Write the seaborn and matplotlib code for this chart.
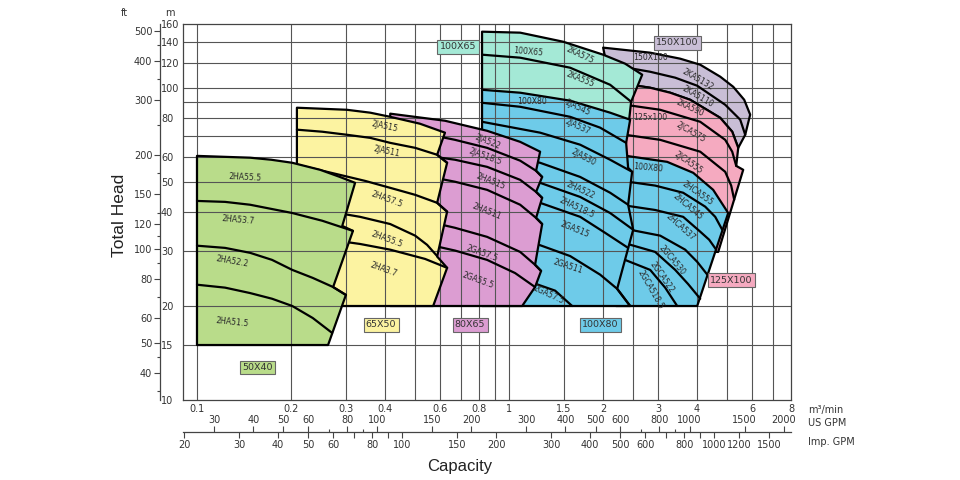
import numpy as np
import pandas as pd
import seaborn as sns
import matplotlib.pyplot as plt
from matplotlib.patches import Polygon
from matplotlib.ticker import FixedLocator, NullLocator, NullFormatter

sns.set_theme(style='white')
plt.rcParams['font.family'] = ['DejaVu Sans']

# axis / grid values
grid_q = [0.1, 0.2, 0.3, 0.4, 0.5, 0.6, 0.7, 0.8, 0.9, 1, 1.5, 2, 2.5, 3, 4, 5, 6, 7]
grid_h = [15, 20, 30, 40, 50, 60, 70, 80, 90, 100, 120, 140]
q_ticks = [0.1, 0.2, 0.3, 0.4, 0.6, 0.8, 1, 1.5, 2, 3, 4, 6, 8]
q_labels = ['0.1', '0.2', '0.3', '0.4', '0.6', '0.8', '1', '1.5', '2', '3', '4', '6', '8']
m_ticks = [10, 15, 20, 30, 40, 50, 60, 80, 100, 120, 140, 160]
ft_ticks = [40, 50, 60, 80, 100, 120, 150, 200, 300, 400, 500]
ft_minor = [35, 45, 70, 90, 110, 130, 175, 250, 350, 450]
us_ticks = [30, 40, 50, 60, 80, 100, 150, 200, 300, 400, 500, 600, 800, 1000, 1500, 2000]
us_minor = [70, 90, 700, 900]
imp_ticks = [20, 30, 40, 50, 60, 70, 80, 90, 100, 150, 200, 300, 400, 500, 600, 700, 800, 900, 1000, 1200, 1500]
imp_labels = ['20', '30', '40', '50', '60', '', '80', '', '100', '150', '200', '300', '400', '500', '600', '', '800', '', '1000', '1200', '1500']

# 50X40 (green): impeller curves (Q m3/min, H m), top curve first
g_curves = [
    ([0.100, 0.148, 0.173, 0.202, 0.248, 0.287, 0.321], [60.5, 59.7, 58.8, 57.5, 54.6, 51.8, 49.6]),
    ([0.100, 0.123, 0.148, 0.202, 0.252, 0.316], [43.4, 43.1, 42.2, 39.7, 37.5, 34.8]),
    ([0.100, 0.123, 0.148, 0.174, 0.202, 0.235, 0.273, 0.300], [31.2, 30.7, 29.6, 28.1, 26.1, 24.6, 23.0, 21.7]),
    ([0.100, 0.123, 0.148, 0.174, 0.202, 0.235, 0.271], [23.4, 22.9, 22.0, 21.1, 20.0, 18.3, 16.4]),
]
g_edge = ([0.321, 0.292, 0.316, 0.273, 0.300, 0.263], [49.6, 36.1, 34.8, 23.0, 21.7, 15])
g_base = ([0.1], [15])

# 65X50 (yellow)
y_curves = [
    ([0.209, 0.302, 0.359, 0.416, 0.518, 0.623], [86.3, 85.0, 83.2, 80.7, 76.7, 71.8]),
    ([0.209, 0.252, 0.302, 0.359, 0.416, 0.500, 0.588, 0.633], [73.4, 72.3, 70.7, 69.1, 66.6, 64.2, 61.0, 57.5]),
    ([0.209, 0.287, 0.346, 0.416, 0.500, 0.588, 0.633], [56.7, 52.6, 50.3, 47.8, 45.4, 42.8, 40.1]),
    ([0.267, 0.333, 0.416, 0.500, 0.546, 0.588], [40.1, 38.6, 36.6, 33.6, 31.4, 28.9]),
    ([0.267, 0.333, 0.416, 0.538, 0.633], [32.6, 31.6, 30.3, 28.3, 26.5]),
]
y_edge = ([0.623, 0.588, 0.633, 0.588, 0.633, 0.588, 0.633, 0.571],
          [71.8, 61.0, 57.5, 42.8, 40.1, 28.8, 26.5, 20])
y_base = ([0.209], [20])

# 80X65 (magenta)
p_curves = [
    ([0.416, 0.623, 0.850, 1.085, 1.257], [82.6, 78.4, 72.8, 67.1, 62.4]),
    ([0.518, 0.671, 0.850, 1.085, 1.220, 1.276], [71.8, 68.1, 64.2, 58.4, 54.2, 51.8]),
    ([0.518, 0.671, 0.850, 1.085, 1.220, 1.276], [61.0, 58.8, 55.8, 50.7, 46.4, 44.4]),
    ([0.518, 0.671, 0.850, 1.085, 1.220, 1.276], [52.6, 50.0, 47.1, 42.2, 38.3, 36.6]),
    ([0.518, 0.671, 0.850, 1.085, 1.211, 1.266], [37.8, 35.6, 33.3, 29.8, 27.1, 25.9]),
    ([0.518, 0.671, 0.850, 1.045, 1.211], [31.9, 30.1, 28.1, 25.5, 23.0]),
]
p_edge = ([1.257, 1.220, 1.276, 1.220, 1.276, 1.220, 1.276, 1.211, 1.266, 1.211, 1.101],
          [62.4, 54.2, 51.8, 46.4, 44.4, 38.3, 36.6, 27.1, 25.9, 23.0, 20])
p_base = ([0.416], [20])

# 100X65 (teal)
t_curves = [
    ([0.819, 1.085, 1.490, 2.001, 2.354, 2.669], [151.2, 150.1, 140.4, 127.6, 119.4, 110.1]),
    ([0.819, 1.085, 1.569, 2.107, 2.460], [127.6, 124.8, 115.9, 102.2, 90.2]),
]
t_edge = ([2.669, 2.460, 2.424], [110.1, 90.2, 79])
t_base = ([0.819], [79])

# 100X80 (blue, 2JA / 2HA / 2GA)
b_curves = [
    ([0.819, 1.085, 1.569, 2.107, 2.442], [98.5, 96.4, 90.9, 83.2, 79.0]),
    ([0.819, 1.085, 1.569, 1.957, 2.371], [89.5, 86.9, 80.7, 74.5, 66.6]),
    ([0.819, 1.257, 1.689, 2.107, 2.478], [77.8, 71.8, 65.7, 58.8, 53.8]),
    ([0.819, 1.257, 1.689, 2.107, 2.406], [63.3, 57.5, 51.8, 46.1, 42.2]),
    ([0.819, 1.257, 1.689, 2.107, 2.497], [54.6, 49.6, 44.7, 39.7, 35.1]),
    ([0.819, 1.257, 1.689, 2.031, 2.406], [47.1, 42.8, 38.6, 34.3, 30.7]),
    ([1.194, 1.569, 1.957, 2.219, 2.442], [31.9, 28.9, 25.2, 22.7, 20]),
    ([1.194, 1.404, 1.592], [23.7, 22.4, 20]),
]
b_edge = ([2.442, 2.371, 2.406, 2.478, 2.406, 2.497, 2.219, 2.442],
          [79.0, 66.6, 55.4, 53.8, 42.2, 35.1, 22.7, 20])
b_base = ([0.819], [20])

# 100X80 (blue, 2HCA / 2GCA)
r_curves = [
    ([2.200, 3.209, 3.889, 4.506, 5.034], [61.2, 57.9, 53.4, 47.1, 39.7]),
    ([2.269, 2.937, 3.611, 4.249, 4.574, 4.817], [50.4, 48.6, 46.1, 41.6, 38.6, 35.1]),
    ([2.269, 2.937, 3.611, 4.095, 4.375, 4.607], [42.2, 40.6, 38.6, 34.6, 32.6, 30.3]),
    ([2.269, 3.048, 3.665, 4.005, 4.342], [35.6, 33.6, 30.3, 27.7, 25.0]),
    ([2.269, 2.937, 3.405, 3.747, 4.095], [32.1, 29.8, 26.1, 23.5, 21.1]),
    ([2.269, 2.831, 3.162, 3.455], [28.5, 26.1, 22.9, 20]),
]
r_edge = ([5.034, 4.005], [39.7, 20])
r_base = ([2.200], [20])

# 125X100 (pink)
k_curves = [
    ([2.107, 2.831, 3.281, 3.803, 4.746, 5.185, 5.420], [104.5, 100.0, 96.4, 91.5, 80.1, 72.3, 64.2]),
    ([2.354, 3.048, 4.095, 4.924, 5.185, 5.341], [88.2, 85.0, 77.8, 68.1, 62.4, 56.2]),
    ([2.354, 3.048, 4.095, 4.924, 5.146, 5.262], [70.7, 68.1, 62.4, 53.8, 48.6, 43.8]),
]
k_edge = ([5.420, 5.341, 5.623, 4.676], [64.2, 56.2, 54.6, 29.8])
k_base = ([2.107], [29.8])

# 150X100 (lilac)
u_curves = [
    ([2.001, 2.831, 3.532, 4.095, 4.746, 5.224, 5.665, 5.920], [134.4, 129.5, 123.9, 118.5, 108.5, 100.7, 91.5, 82.0]),
    ([2.107, 2.831, 3.405, 4.005, 4.924, 5.501, 5.707], [118.5, 112.5, 107.7, 101.5, 88.2, 79.0, 70.7]),
]
u_edge = ([5.920, 5.707, 5.420], [82.0, 70.7, 64.2])
u_base = (k_curves[0][0][::-1], k_curves[0][1][::-1])

c_green, c_yellow, c_magenta = '#b9dc8a', '#fcf3a1', '#dc9dd2'
c_blue, c_teal, c_pink, c_lilac = '#6ecbe9', '#a4e9d6', '#f5aac0', '#c9bed6'

curve_labels = [
    ('2HA55.5', 0.143, 51.8, -3), ('2HA53.7', 0.135, 37.8, -5),
    ('2HA52.2', 0.130, 27.7, -10), ('2HA51.5', 0.130, 17.8, -6),
    ('2JA515', 0.400, 75.0, -12), ('2JA511', 0.406, 62.4, -12),
    ('2HA57.5', 0.406, 43.8, -20), ('2HA55.5', 0.406, 32.6, -20), ('2HA3.7', 0.395, 26.1, -20),
    ('2JA522', 0.856, 67.1, -22), ('2JA518.5', 0.838, 60.1, -20), ('2HA515', 0.869, 50.0, -22),
    ('2HA511', 0.850, 40.1, -22), ('2GA57.5', 0.819, 29.6, -20), ('2GA55.5', 0.796, 24.2, -20),
    ('100X65', 1.151, 130.5, -5), ('2KA575', 1.689, 127.6, -25), ('2KA555', 1.689, 106.1, -22),
    ('100X80', 1.185, 90.2, 0), ('2JA545', 1.652, 86.3, -25), ('2JA537', 1.652, 75.0, -25),
    ('2JA530', 1.727, 59.7, -28), ('2HA522', 1.689, 47.1, -25), ('2HA518.5', 1.652, 41.2, -25),
    ('2GA515', 1.627, 35.1, -22), ('2GA511', 1.546, 26.7, -18), ('2GA57.5', 1.334, 21.7, -25),
    ('100X80', 2.79, 55.4, -5), ('2HCA555', 4.005, 46.1, -35), ('2HCA545', 3.747, 41.6, -40),
    ('2HCA537', 3.532, 35.9, -42), ('2GCA530', 3.330, 28.1, -50), ('2GCA522', 3.093, 24.8, -55),
    ('2GCA518.5', 2.831, 22.5, -60),
    ('125x100', 2.831, 80.1, 0), ('2KA590', 3.803, 86.3, -25), ('2JCA575', 3.803, 72.3, -30),
    ('2JCA555', 3.747, 57.5, -35),
    ('150X100', 2.831, 124.8, 0), ('2KA5132', 4.005, 106.1, -30), ('2KA5110', 4.005, 93.6, -30),
]
box_labels = [
    ('50X40', 0.156, 12.7, c_green), ('65X50', 0.389, 17.4, c_yellow),
    ('80X65', 0.75, 17.4, c_magenta), ('100X80', 1.957, 17.4, c_blue),
    ('125X100', 5.146, 24.2, c_pink), ('100X65', 0.686, 135.3, c_teal),
    ('150X100', 3.455, 139.4, c_lilac),
]

grid_color, grid_lw = '#555555', 0.8
Q_MIN, Q_MAX, H_MIN, H_MAX = 0.0902, 8.0, 10, 160

fig = plt.figure(figsize=(9.6, 4.8), dpi=100)
ax = fig.add_axes([183 / 960, 80 / 480, 608 / 960, 376 / 480])
ax.set_xscale('log')
ax.set_yscale('log')
ax.set_facecolor('white')

ax.vlines(grid_q, H_MIN, H_MAX, colors=grid_color, lw=grid_lw, zorder=0.5)
ax.hlines(grid_h, Q_MIN, Q_MAX, colors=grid_color, lw=grid_lw, zorder=0.5)


def draw_family(curves, edge, base, color, z):
    top_q, top_h = curves[0]
    poly_q = list(top_q) + list(edge[0][1:]) + list(base[0])
    poly_h = list(top_h) + list(edge[1][1:]) + list(base[1])
    pts = np.column_stack([poly_q, poly_h])
    fill = Polygon(pts, closed=True, facecolor=color, edgecolor='none', zorder=z)
    ax.add_patch(fill)
    # grid shows through the coloured areas
    vl = ax.vlines(grid_q, H_MIN, H_MAX, colors=grid_color, lw=grid_lw, zorder=z + 0.1)
    vl.set_clip_path(fill)
    hl = ax.hlines(grid_h, Q_MIN, Q_MAX, colors=grid_color, lw=grid_lw, zorder=z + 0.1)
    hl.set_clip_path(fill)
    ax.add_patch(Polygon(pts, closed=True, fill=False, edgecolor='black', lw=1.6,
                         joinstyle='round', zorder=z + 0.2))
    for q, h in curves[1:]:
        sns.lineplot(x=q, y=h, sort=False, estimator=None, color='black', lw=1.6,
                     zorder=z + 0.2, legend=False, ax=ax)


draw_family(u_curves, u_edge, u_base, c_lilac, 10)
draw_family(k_curves, k_edge, k_base, c_pink, 20)
draw_family(r_curves, r_edge, r_base, c_blue, 30)
draw_family(t_curves, t_edge, t_base, c_teal, 40)
draw_family(b_curves, b_edge, b_base, c_blue, 50)
draw_family(p_curves, p_edge, p_base, c_magenta, 60)
draw_family(y_curves, y_edge, y_base, c_yellow, 70)
draw_family(g_curves, g_edge, g_base, c_green, 80)

for txt, q, h, rot in curve_labels:
    ax.text(q, h, txt, rotation=rot, ha='center', va='center', fontsize=5.6,
            color='#2a2a2a', rotation_mode='anchor', zorder=100)
for txt, q, h, col in box_labels:
    ax.text(q, h, txt, ha='center', va='center', fontsize=6.8, color='#333333', zorder=100,
            bbox=dict(boxstyle='square,pad=0.25', facecolor=col, edgecolor='#666666', lw=0.8))

ax.set_xlim(Q_MIN, Q_MAX)
ax.set_ylim(H_MIN, H_MAX)
ax.set_xlabel('')
ax.set_ylabel('')
ax.set_xticks(q_ticks, labels=q_labels)
ax.set_yticks(m_ticks, labels=[str(v) for v in m_ticks])
ax.xaxis.set_minor_locator(NullLocator())
ax.yaxis.set_minor_locator(NullLocator())
ax.tick_params(axis='x', length=0, pad=3, labelsize=7, labelcolor='#333333')
ax.tick_params(axis='y', length=0, pad=15.8, labelsize=7, labelcolor='#333333')
for lbl in ax.get_yticklabels():
    lbl.set_horizontalalignment('left')
for sp in ax.spines.values():
    sp.set_color('#444444')
    sp.set_linewidth(0.9)
    sp.set_zorder(200)

# feet axis on the left
ax_ft = ax.twinx()
ax_ft.set_yscale('log')
ax_ft.set_ylim(H_MIN * 3.28084, H_MAX * 3.28084)
ax_ft.yaxis.set_ticks_position('left')
ax_ft.spines['left'].set_position(('outward', 16.6))
ax_ft.spines['left'].set_visible(True)
ax_ft.spines['left'].set_color('#444444')
ax_ft.spines['left'].set_linewidth(0.9)
for s in ['right', 'top', 'bottom']:
    ax_ft.spines[s].set_visible(False)
ax_ft.set_yticks(ft_ticks, labels=[str(v) for v in ft_ticks])
ax_ft.yaxis.set_minor_locator(FixedLocator(ft_minor))
ax_ft.yaxis.set_minor_formatter(NullFormatter())
ax_ft.tick_params(axis='y', which='major', direction='out', length=4, width=0.8,
                  color='#444444', labelsize=7, labelcolor='#333333', pad=1.5)
ax_ft.tick_params(axis='y', which='minor', direction='out', length=2.5, width=0.8, color='#444444')

# GPM scales under the plot
ax_us = fig.add_axes([183 / 960, 48 / 480, 608 / 960, 0.001])
ax_imp = ax_us.twiny()
ax_us.set_xscale('log')
ax_us.set_xlim(Q_MIN * 264.172, Q_MAX * 264.172)
ax_imp.set_xscale('log')
ax_imp.set_xlim(Q_MIN * 219.969, Q_MAX * 219.969)
for a in (ax_us, ax_imp):
    a.set_yticks([])
    a.patch.set_alpha(0)
    for s in a.spines.values():
        s.set_visible(False)
ax_us.spines['bottom'].set_visible(True)
ax_us.spines['bottom'].set_color('#444444')
ax_us.spines['bottom'].set_linewidth(0.9)
ax_us.xaxis.set_ticks_position('top')
ax_us.xaxis.set_label_position('top')
ax_us.set_xticks(us_ticks, labels=[str(v) for v in us_ticks])
ax_us.xaxis.set_minor_locator(FixedLocator(us_minor))
ax_us.xaxis.set_minor_formatter(NullFormatter())
ax_us.tick_params(axis='x', which='major', direction='out', length=4, width=0.8,
                  color='#444444', labelsize=7, labelcolor='#333333', pad=1)
ax_us.tick_params(axis='x', which='minor', direction='out', length=2, width=0.8, color='#444444')
ax_imp.xaxis.set_ticks_position('bottom')
ax_imp.xaxis.set_label_position('bottom')
ax_imp.set_xticks(imp_ticks, labels=imp_labels)
ax_imp.xaxis.set_minor_locator(NullLocator())
ax_imp.tick_params(axis='x', which='major', direction='out', length=4, width=0.8,
                   color='#444444', labelsize=7, labelcolor='#333333', pad=2)

txt_kw = dict(fontsize=7, color='#333333', va='center')
fig.text(808 / 960, 1 - 410 / 480, 'm³/min', **txt_kw)
fig.text(808 / 960, 1 - 423 / 480, 'US GPM', **txt_kw)
fig.text(808 / 960, 1 - 442 / 480, 'Imp. GPM', **txt_kw)
fig.text(121 / 960, 1 - 13 / 480, 'ft', **txt_kw)
fig.text(165 / 960, 1 - 13 / 480, 'm', **txt_kw)
fig.text(120 / 960, 1 - 215 / 480, 'Total Head', rotation=90, ha='center', va='center',
         fontsize=12.5, color='#222222', family=['Liberation Sans', 'DejaVu Sans'])
fig.text(460 / 960, 1 - 467 / 480, 'Capacity', ha='center', va='center',
         fontsize=12, color='#222222', family=['Liberation Sans', 'DejaVu Sans'])

fig.savefig('out.png', dpi=100)
